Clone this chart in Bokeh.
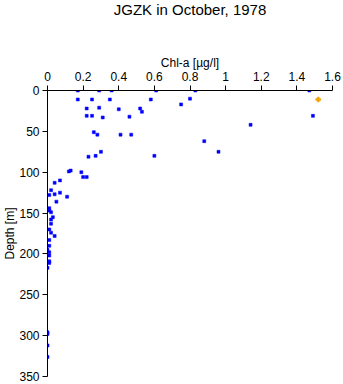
from bokeh.plotting import figure
from bokeh.models import Range1d, FixedTicker, LinearAxis, Title
from bokeh.embed import file_html
from bokeh.resources import INLINE

# Chlorophyll-a [µg/l] and depth [m] of the blue samples
chl = [0.17, 0.29, 0.36, 0.61, 0.83, 1.47,
       0.17, 0.25, 0.35, 0.58, 0.80,
       0.75,
       0.22, 0.29, 0.40, 0.52, 0.53,
       0.22, 0.25, 0.31, 0.46, 1.49,
       1.14,
       0.26, 0.28, 0.41, 0.47,
       0.88,
       0.30, 0.96,
       0.23, 0.27, 0.60,
       0.12, 0.13, 0.19, 0.20, 0.22,
       0.04, 0.07,
       0.02, 0.04, 0.01, 0.07, 0.11,
       0.05,
       0.01, 0.01, 0.02, 0.03, 0.02, 0.02, 0.01, 0.02, 0.04,
       0.01, 0.01, 0.0, 0.01, 0.01, 0.01, 0.01, 0.0,
       0.0, 0.0, 0.0, 0.0]
depth = [0, 0, 0, 0, 0, 0,
         11, 11, 11, 11, 10,
         17,
         22, 21, 23, 22, 26,
         31, 31, 33, 32, 31,
         42,
         51, 54, 54, 54,
         62,
         75, 75,
         81, 80, 80,
         99, 98, 100, 106, 106,
         113, 110,
         122, 127, 128, 125, 130,
         136,
         144, 147, 149, 155, 158, 163, 170, 174, 178,
         183, 190, 195, 198, 202, 209, 211, 217,
         296, 298, 312, 326]

# highlighted (orange) sample
chl_hi = [1.52]
depth_hi = [11]

x_ticks = [0, 0.2, 0.4, 0.6, 0.8, 1, 1.2, 1.4, 1.6]
x_tick_labels = ["0", "0.2", "0.4", "0.6", "0.8", "1", "1.2", "1.4", "1.6"]
y_ticks = [0, 50, 100, 150, 200, 250, 300, 350]
title_text = "JGZK in October, 1978"

p = figure(width=343, height=384, output_backend="svg", toolbar_location=None,
           x_axis_location="above", x_range=Range1d(0, 1.6), y_range=Range1d(350, 0),
           min_border_left=47, min_border_right=11, min_border_top=90, min_border_bottom=8)

p.outline_line_color = None
p.xgrid.visible = False
p.ygrid.visible = False

for ax in (p.xaxis[0], p.yaxis[0]):
    ax.major_label_text_font = "Liberation Sans"
    ax.major_label_text_font_size = "12px"
    ax.major_label_text_color = "black"
    ax.axis_label_text_font = "Liberation Sans"
    ax.axis_label_text_font_size = "12px"
    ax.axis_label_text_font_style = "normal"
    ax.axis_label_text_color = "black"
    ax.axis_line_color = "black"
    ax.major_tick_line_color = "black"
    ax.minor_tick_line_color = None
    ax.major_tick_out = 5
    ax.major_tick_in = 0
    ax.major_label_standoff = 5

p.xaxis[0].ticker = FixedTicker(ticks=x_ticks)
p.xaxis[0].major_label_overrides = {t: l for t, l in zip(x_ticks, x_tick_labels)}
p.xaxis[0].axis_label = "Chl-a [µg/l]"
p.xaxis[0].axis_label_standoff = -1

p.yaxis[0].ticker = FixedTicker(ticks=y_ticks)
p.yaxis[0].axis_label = "Depth [m]"
p.yaxis[0].axis_label_standoff = -1
p.yaxis[0].major_label_standoff = 3

# invisible spacer axis between the top axis and the title
spacer = LinearAxis(ticker=FixedTicker(ticks=[0.8]), major_label_overrides={0.8: ""},
                    major_tick_out=37, major_tick_in=0, major_label_standoff=0,
                    major_label_text_font_size="1px",
                    axis_line_color=None, major_tick_line_color=None,
                    minor_tick_line_color=None)
p.add_layout(spacer, "above")

title = Title(text=title_text, text_font="Liberation Sans", text_font_size="15px",
              text_font_style="normal", text_color="black", align="center", standoff=-4)
p.add_layout(title, "above")

p.scatter(chl, depth, marker="square", size=3, fill_color="#0000ff", line_color="#0000ff", line_width=0.5)
p.scatter(chl_hi, depth_hi, marker="plus", size=5, fill_color="#f5a000", line_color="#f5a000", line_width=0.5)

open("out.html", "w").write(file_html(p, INLINE))
